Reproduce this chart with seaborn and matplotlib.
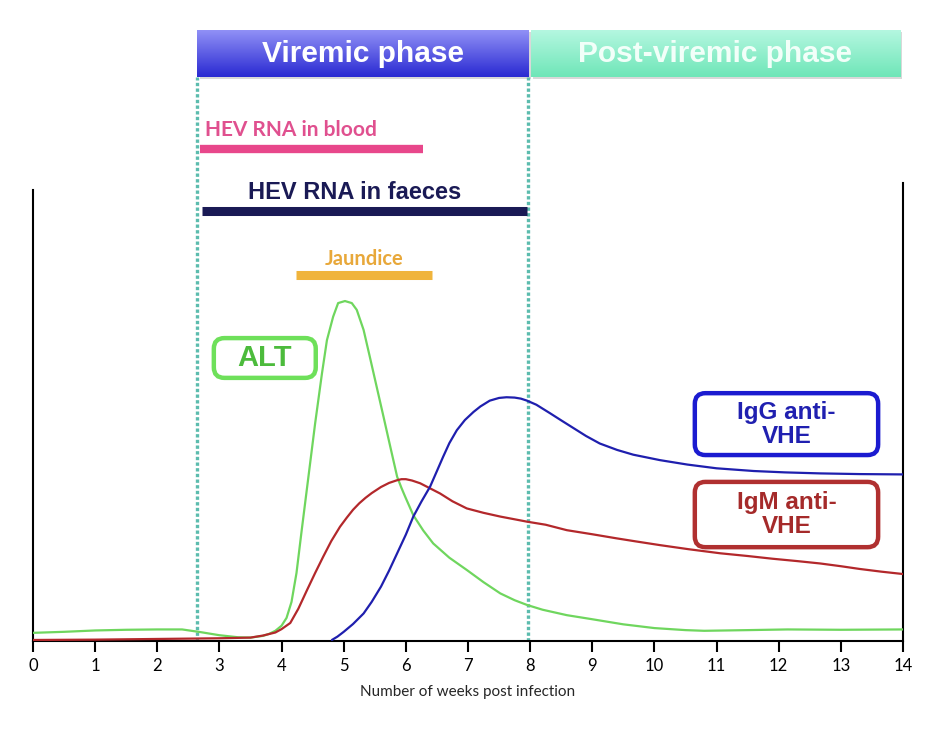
import numpy as np
import pandas as pd
import seaborn as sns
import matplotlib
matplotlib.use("Agg")
import matplotlib.pyplot as plt
from matplotlib.patches import FancyBboxPatch, Rectangle
from matplotlib.colors import LinearSegmentedColormap

# curves (weeks post infection, arbitrary units, ALT peak = 100)
weeks_alt = [0, 0.5, 1.0, 1.5, 2.0, 2.4, 2.7, 3.0, 3.3, 3.5, 3.7, 3.8, 3.9, 4.0, 4.08, 4.16,
             4.24, 4.32, 4.43, 4.54, 4.65, 4.73, 4.83, 4.91, 5.02, 5.13, 5.21, 5.32, 5.42,
             5.53, 5.64, 5.75, 5.86, 5.93, 5.99, 6.12, 6.28, 6.44, 6.7, 6.98, 7.25, 7.52,
             7.75, 7.95, 8.2, 8.59, 9.0, 9.5, 10.0, 10.5, 10.8, 11.5, 12.14, 13.0, 14.0]
alt = [2.4, 2.7, 3.1, 3.3, 3.4, 3.4, 2.6, 1.7, 1.1, 1.0, 1.5, 2.1, 3.0, 4.5, 6.8, 11.5,
       20, 32, 48, 64, 78.7, 88.5, 95.4, 99.4, 100, 99.4, 97.4, 91.5, 83.6,
       74.8, 66, 57.1, 48.3, 45, 42.4, 37, 32.5, 28.7, 24.5, 20.9, 17.3, 14,
       12, 10.6, 9.2, 7.6, 6.4, 4.9, 3.8, 3.2, 3.0, 3.2, 3.4, 3.3, 3.4]

weeks_igm = [0, 1, 2, 3, 3.5, 3.7, 3.9, 4.0, 4.14, 4.27, 4.41, 4.54, 4.67, 4.8, 4.94, 5.05,
             5.15, 5.25, 5.35, 5.45, 5.6, 5.73, 5.86, 5.93, 6.0, 6.1, 6.23, 6.39, 6.55, 6.75,
             6.98, 7.25, 7.52, 7.75, 7.95, 8.25, 8.59, 9.0, 9.39, 9.7, 10.09, 10.55, 11.06,
             11.5, 11.9, 12.3, 12.67, 13.0, 13.3, 13.65, 14.0]
igm = [0.3, 0.4, 0.6, 0.8, 1.0, 1.6, 2.5, 3.5, 5.3, 9.5, 15, 20, 24.8, 29.4, 33.6, 36.3,
       38.6, 40.5, 42.1, 43.5, 45.3, 46.5, 47.3, 47.6, 47.6, 47.2, 46.4, 44.9, 43.4, 41.1,
       39, 37.7, 36.6, 35.8, 35.1, 34.2, 32.6, 31.4, 30.2, 29.3, 28.2, 27, 25.8,
       25, 24.2, 23.5, 22.8, 22, 21.2, 20.4, 19.7]

weeks_igg = [4.81, 4.9, 5.0, 5.15, 5.32, 5.45, 5.6, 5.73, 5.86, 6.0, 6.12, 6.25, 6.39, 6.5,
             6.6, 6.7, 6.82, 6.95, 7.09, 7.2, 7.35, 7.5, 7.62, 7.75, 7.85, 7.95, 8.1, 8.32,
             8.5, 8.7, 8.9, 9.12, 9.4, 9.66, 10.09, 10.53, 11.0, 11.6, 12.1, 12.67, 13.3, 14.0]
igg = [0.3, 1.3, 2.7, 5.0, 8.1, 11.5, 16, 20.7, 25.8, 31.3, 36.6, 41, 45.4, 50,
       54.2, 58.2, 62, 65, 67.4, 69, 70.7, 71.5, 71.7, 71.6, 71.3, 70.7, 69.5, 67,
       64.9, 62.6, 60.3, 58.1, 56.2, 54.8, 53.2, 51.9, 50.8, 50, 49.6, 49.3, 49.1, 49]

# phases and marker intervals (weeks)
phase_names = ["Viremic phase", "Post-viremic phase"]
phase_start = [2.64, 8.01]
phase_end = [7.97, 13.95]
interval_names = ["HEV RNA in blood", "HEV RNA in faeces", "Jaundice"]
interval_start = [2.69, 2.72, 4.23]
interval_end = [6.28, 7.95, 6.42]

week_ticks = list(range(0, 15))

sns.set_style("white")
plt.rcParams["font.family"] = ["Liberation Sans", "DejaVu Sans"]

fig = plt.figure(figsize=(9.38, 7.34), dpi=100)
ax = fig.add_axes([33 / 938, 93 / 734, 870 / 938, 616 / 734])

curves = pd.concat([
    pd.DataFrame({"week": weeks_alt, "level": alt, "marker": "ALT"}),
    pd.DataFrame({"week": weeks_igm, "level": igm, "marker": "IgM"}),
    pd.DataFrame({"week": weeks_igg, "level": igg, "marker": "IgG"}),
], ignore_index=True)
pal = {"ALT": "#6fd65e", "IgM": "#b3282b", "IgG": "#1f1fae"}
sns.lineplot(data=curves, x="week", y="level", hue="marker", palette=pal,
             estimator=None, sort=False, linewidth=1.6, legend=False, ax=ax, zorder=3)

# phase header boxes with gradient and a faint shadow
grads = [("#9090f6", "#2a2ad2"), ("#b4f7e0", "#6fe6b8")]
txt_cols = ["white", "#f2fff9"]
for i, name in enumerate(phase_names):
    ax.add_patch(Rectangle((phase_start[i] + 0.04, 165.2), phase_end[i] - phase_start[i],
                           13.8, fc="#d8d8d8", ec="none", zorder=1))
    cmap = LinearSegmentedColormap.from_list("g", grads[i])
    ax.imshow(np.linspace(0, 1, 64).reshape(-1, 1), cmap=cmap, aspect="auto",
              extent=[phase_start[i], phase_end[i], 165.9, 179.7], zorder=2)
    ax.text((phase_start[i] + phase_end[i]) / 2, 172.6, name, ha="center", va="center",
            color=txt_cols[i], fontsize=21.5, fontweight="bold", zorder=4)

# phase boundaries
ax.vlines([phase_start[0], phase_end[0]], 0, 165.9, colors="#5cbcae",
          linestyles=(0, (1.0, 0.7)), linewidth=2.4, zorder=2)

# marker intervals
bar_y = [144.7, 126.5, 107.6]
bar_col = ["#e8478b", "#1a1a55", "#f0b43c"]
bar_lw = [6, 6.5, 6.5]
for i in range(3):
    ax.hlines(bar_y[i], interval_start[i], interval_end[i], colors=bar_col[i],
              linewidth=bar_lw[i], zorder=3)
ax.text(2.77, 150.3, interval_names[0], ha="left", va="center", color="#e0508f",
        fontsize=15, fontweight="bold", family=["Lato", "DejaVu Sans"])
ax.text(5.18, 131.8, interval_names[1], ha="center", va="center", color="#1a1a55",
        fontsize=17, fontweight="bold")
ax.text(5.33, 112.4, interval_names[2], ha="center", va="center", color="#e8a83a",
        fontsize=14.5, fontweight="bold", family=["Lato", "DejaVu Sans"])

# labelled boxes for the curves
boxes = [("ALT", 2.91, 4.55, 77.4, 89.1, "#6ee05a", "#4cbb3c", 21),
         ("IgG anti-\nVHE", 10.65, 13.6, 54.7, 72.9, "#1b1bd0", "#2020b0", 17.5),
         ("IgM anti-\nVHE", 10.65, 13.6, 27.6, 46.8, "#b03030", "#a52a2a", 17.5)]
for label, x0, x1, y0, y1, ec, tc, fs in boxes:
    ax.add_patch(FancyBboxPatch((x0, y0), x1 - x0, y1 - y0,
                                boxstyle="round,pad=0,rounding_size=0.17",
                                mutation_aspect=18.3, fc="white", ec=ec, lw=3.2, zorder=4))
    ax.text((x0 + x1) / 2, (y0 + y1) / 2, label, ha="center", va="center", color=tc,
            fontsize=fs, fontweight="bold", linespacing=1.05, zorder=5)

ax.set_xlim(0, 14)
ax.set_ylim(0, 181.2)
ax.set_xticks(week_ticks)
ax.set_xticklabels([str(t) for t in week_ticks], family=["Lato", "DejaVu Sans"], fontsize=12)
ax.set_yticks([])
ax.set_ylabel("")
ax.set_xlabel("Number of weeks post infection", family=["Lato", "DejaVu Sans"], fontsize=11)
ax.xaxis.set_label_coords(0.5, -0.072)
ax.tick_params(axis="x", direction="out", length=8, width=1.5, pad=4, colors="black", bottom=True)

ax.spines["top"].set_visible(False)
for s in ["left", "right", "bottom"]:
    ax.spines[s].set_color("black")
    ax.spines[s].set_linewidth(1.5)
ax.spines["left"].set_bounds(0, 132.6)
ax.spines["right"].set_bounds(0, 134.7)

fig.savefig("out.png", dpi=100)
